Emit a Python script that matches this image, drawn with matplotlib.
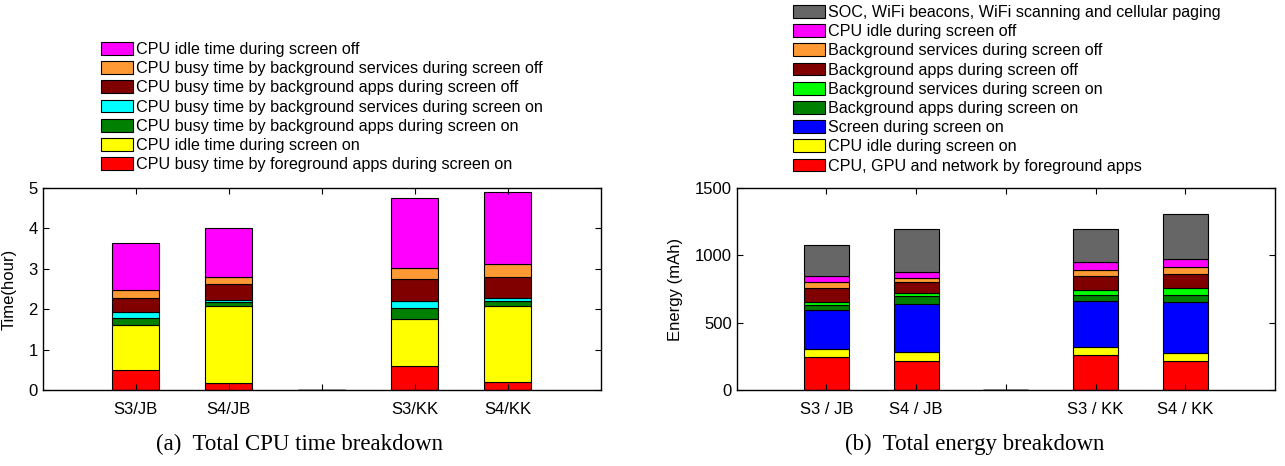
import matplotlib
matplotlib.use('Agg')
import matplotlib.pyplot as plt
import numpy as np

plt.rcParams['font.family'] = ['Liberation Sans', 'DejaVu Sans']

# categories (middle slot is an empty spacer bar)
categories = ['S3/JB', 'S4/JB', '', 'S3/KK', 'S4/KK']
categories_b = ['S3 / JB', 'S4 / JB', '', 'S3 / KK', 'S4 / KK']

# (a) CPU time, hours, stacked bottom -> top
cpu_fg_busy = [0.50, 0.17, 0, 0.60, 0.19]
cpu_idle_on = [1.11, 1.92, 0, 1.16, 1.90]
cpu_bgapps_on = [0.17, 0.08, 0, 0.26, 0.12]
cpu_bgsvc_on = [0.16, 0.05, 0, 0.19, 0.07]
cpu_bgapps_off = [0.34, 0.41, 0, 0.53, 0.52]
cpu_bgsvc_off = [0.19, 0.16, 0, 0.28, 0.31]
cpu_idle_off = [1.17, 1.22, 0, 1.73, 1.78]

labels_a = ['CPU busy time by foreground apps during screen on',
            'CPU idle time during screen on',
            'CPU busy time by background apps during screen on',
            'CPU busy time by background services during screen on',
            'CPU busy time by background apps during screen off',
            'CPU busy time by background services during screen off',
            'CPU idle time during screen off']
colors_a = ['#ff0000', '#ffff00', '#008000', '#00ffff', '#800000', '#ff9933', '#ff00ff']

# (b) energy, mAh, stacked bottom -> top
en_fg = [245, 215, 0, 259, 212]
en_idle_on = [56, 69, 0, 62, 65]
en_screen = [295, 354, 0, 339, 378]
en_bgapps_on = [34, 59, 0, 49, 54]
en_bgsvc_on = [25, 25, 0, 30, 45]
en_bgapps_off = [99, 81, 0, 106, 108]
en_bgsvc_off = [49, 32, 0, 49, 55]
en_idle_off = [40, 40, 0, 57, 59]
en_soc = [232, 318, 0, 245, 334]

labels_b = ['CPU, GPU and network by foreground apps',
            'CPU idle during screen on',
            'Screen during screen on',
            'Background apps during screen on',
            'Background services during screen on',
            'Background apps during screen off',
            'Background services during screen off',
            'CPU idle during screen off',
            'SOC, WiFi beacons, WiFi scanning and cellular paging']
colors_b = ['#ff0000', '#ffff00', '#0000ff', '#008000', '#00ff00', '#800000', '#ff9933', '#ff00ff', '#666666']

fig = plt.figure(figsize=(12.85, 4.66), dpi=100)
ax1 = fig.add_axes([42.7 / 1285, 76 / 466, 558 / 1285, 202 / 466])
ax2 = fig.add_axes([736.7 / 1285, 76 / 466, 538.3 / 1285, 202 / 466])


def stacked(ax, series, colors, labels, ticklabels):
    x = np.arange(1, len(ticklabels) + 1)
    bottom = np.zeros(len(x))
    handles = []
    for vals, c, lab in zip(series, colors, labels):
        vals = np.array(vals, dtype=float)
        h = ax.bar(x, vals, 0.5, bottom=bottom, color=c, edgecolor='black', linewidth=0.8, label=lab)
        handles.append(h)
        bottom += vals
    ax.set_xlim(0, 6)
    ax.set_xticks(x)
    ax.set_xticklabels(ticklabels, fontsize=12)
    ax.tick_params(direction='in', top=True, right=True, length=4, labelsize=12)
    ax.tick_params(axis='x', pad=9)
    for s in ax.spines.values():
        s.set_linewidth(1.0)
    return handles


h1 = stacked(ax1, [cpu_fg_busy, cpu_idle_on, cpu_bgapps_on, cpu_bgsvc_on,
                   cpu_bgapps_off, cpu_bgsvc_off, cpu_idle_off],
             colors_a, labels_a, categories)
ax1.set_ylim(0, 5)
ax1.set_yticks([0, 1, 2, 3, 4, 5])
ax1.set_ylabel('Time(hour)', fontsize=12)
ax1.yaxis.set_label_coords(-0.046, 0.5)

h2 = stacked(ax2, [en_fg, en_idle_on, en_screen, en_bgapps_on, en_bgsvc_on,
                   en_bgapps_off, en_bgsvc_off, en_idle_off, en_soc],
             colors_b, labels_b, categories_b)
ax2.set_ylim(0, 1500)
ax2.set_yticks([0, 500, 1000, 1500])
ax2.set_ylabel('Energy (mAh)', fontsize=12)
ax2.yaxis.set_label_coords(-0.10, 0.5)

leg_kw = dict(loc='upper left', frameon=False, fontsize=11.6, handlelength=2.0,
              handleheight=0.85, handletextpad=0.15, labelspacing=0.26, borderpad=0,
              borderaxespad=0)
fig.legend(h1[::-1], labels_a[::-1], bbox_to_anchor=(101 / 1285, 1 - 42 / 466), **leg_kw)
fig.legend(h2[::-1], labels_b[::-1], bbox_to_anchor=(793 / 1285, 1 - 5 / 466), **leg_kw)

fig.text(156 / 1285, 16 / 466, '(a)  Total CPU time breakdown', family='Liberation Serif',
         fontsize=16.5, ha='left', va='baseline')
fig.text(845 / 1285, 16 / 466, '(b)  Total energy breakdown', family='Liberation Serif',
         fontsize=16.5, ha='left', va='baseline')

fig.savefig('out.png', dpi=100)
